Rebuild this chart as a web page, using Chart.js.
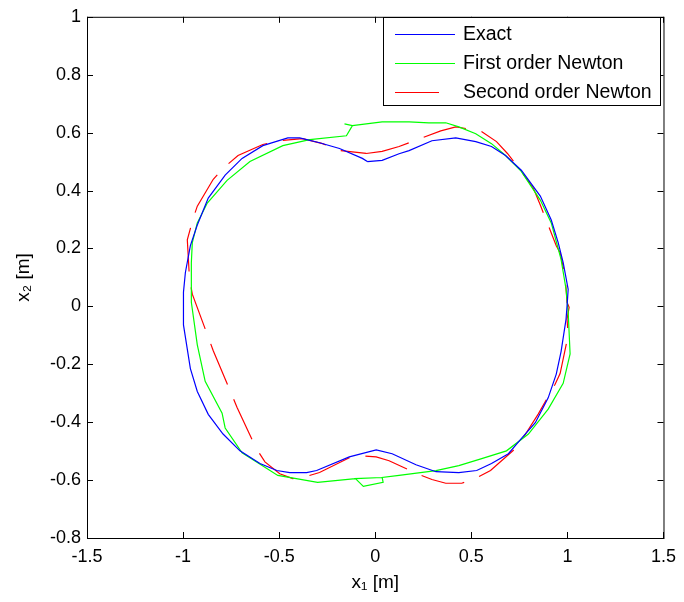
<!DOCTYPE html>
<html><head><meta charset="utf-8">
<script src="https://cdn.jsdelivr.net/npm/chart.js@4/dist/chart.umd.min.js"></script>
<style>html,body{margin:0;padding:0;background:#fff}#wrap{width:684px;height:602px}</style>
</head><body><div id="wrap"><canvas id="c" width="684" height="602"></canvas></div>
<script>
const xTicks=[-1.5,-1,-0.5,0,0.5,1,1.5];
const yTicks=[-0.8,-0.6,-0.4,-0.2,0,0.2,0.4,0.6,0.8,1];
const seriesNames=['Exact','First order Newton','Second order Newton'];
const seriesColors=['#0000ff','#00ff00','#ff0000'];

const exactX=[-0.041,0.036,0.124,0.176,0.295,0.419,0.523,0.605,0.678,0.760,0.859,0.916,0.952,0.978,1.004,0.998,0.993,0.967,0.942,0.900,0.833,0.760,0.693,0.605,0.528,0.435,0.316,0.212,0.088,0.005,-0.135,-0.305,-0.357,-0.445,-0.512,-0.600,-0.704,-0.792,-0.869,-0.926,-0.962,-0.998,-0.998,-0.988,-0.962,-0.926,-0.869,-0.781,-0.693,-0.585,-0.455,-0.393,-0.290,-0.186,-0.067,-0.041];
const exactY=[0.500,0.504,0.527,0.538,0.572,0.582,0.569,0.552,0.521,0.470,0.381,0.298,0.220,0.151,0.059,0.000,-0.044,-0.156,-0.234,-0.316,-0.402,-0.457,-0.509,-0.543,-0.567,-0.574,-0.571,-0.547,-0.509,-0.496,-0.520,-0.567,-0.574,-0.574,-0.567,-0.543,-0.499,-0.441,-0.373,-0.294,-0.215,-0.064,0.049,0.117,0.210,0.281,0.374,0.453,0.511,0.555,0.582,0.582,0.565,0.545,0.511,0.500];

const firstX=[-0.160,-0.119,0.036,0.176,0.279,0.367,0.435,0.523,0.605,0.678,0.760,0.859,0.916,0.967,0.993,1.004,1.014,0.978,0.900,0.797,0.683,0.554,0.435,0.316,0.124,0.036,0.041,-0.062,-0.103,0.036,-0.103,-0.300,-0.507,-0.693,-0.781,-0.797,-0.885,-0.926,-0.957,-0.957,-0.952,-0.926,-0.874,-0.771,-0.652,-0.481,-0.341,-0.150,-0.119];
const firstY=[0.630,0.624,0.637,0.637,0.634,0.634,0.620,0.596,0.562,0.521,0.466,0.367,0.288,0.162,0.059,-0.020,-0.164,-0.266,-0.355,-0.441,-0.499,-0.526,-0.550,-0.567,-0.584,-0.591,-0.608,-0.622,-0.595,-0.591,-0.595,-0.608,-0.584,-0.506,-0.420,-0.369,-0.259,-0.133,0.014,0.151,0.220,0.288,0.357,0.435,0.500,0.555,0.576,0.589,0.624];

const secondX=[-0.047,0.036,0.124,0.341,0.419,0.548,0.631,0.688,0.760,0.823,0.859,0.942,0.962,0.988,0.998,1.009,0.998,1.004,0.962,0.936,0.848,0.760,0.729,0.600,0.523,0.450,0.367,0.295,0.217,0.072,0.005,-0.072,-0.135,-0.290,-0.378,-0.429,-0.497,-0.574,-0.621,-0.719,-0.843,-0.952,-0.967,-0.978,-0.947,-0.926,-0.843,-0.781,-0.714,-0.585,-0.497,-0.378,-0.274,-0.186,-0.047];
const secondY=[0.528,0.535,0.552,0.606,0.620,0.606,0.569,0.528,0.466,0.408,0.350,0.209,0.185,0.107,0.014,-0.003,-0.044,-0.099,-0.232,-0.269,-0.372,-0.464,-0.491,-0.567,-0.594,-0.611,-0.611,-0.598,-0.578,-0.533,-0.520,-0.516,-0.523,-0.574,-0.591,-0.595,-0.578,-0.537,-0.489,-0.349,-0.153,0.042,0.100,0.230,0.305,0.346,0.439,0.483,0.521,0.559,0.572,0.579,0.562,0.538,0.528];

const redDash=[44,16];
const toPts=(xs,ys)=>xs.map((x,i)=>({x:x,y:ys[i]}));
const fmt=v=>String(Math.round(v*10)/10);
const FONT='"Liberation Sans", Arial, Helvetica, sans-serif';

const framePlugin={
  id:'frame',
  afterDraw(chart){
    const {ctx,chartArea:a,scales}=chart;
    ctx.save();
    ctx.strokeStyle='#000';ctx.lineWidth=1;
    ctx.strokeRect(a.left+0.5,a.top+0.5,a.right-a.left,a.bottom-a.top);
    const tl=6;
    ctx.beginPath();
    xTicks.forEach(v=>{const p=Math.round(scales.x.getPixelForValue(v))+0.5;
      ctx.moveTo(p,a.bottom);ctx.lineTo(p,a.bottom-tl);ctx.moveTo(p,a.top);ctx.lineTo(p,a.top+tl);});
    yTicks.forEach(v=>{const p=Math.round(scales.y.getPixelForValue(v))+0.5;
      ctx.moveTo(a.left,p);ctx.lineTo(a.left+tl,p);ctx.moveTo(a.right,p);ctx.lineTo(a.right-tl,p);});
    ctx.stroke();
    // legend
    const bx=383.5,by=17.5,bw=277,bh=88;
    ctx.fillStyle='#fff';ctx.fillRect(bx,by,bw,bh);
    ctx.strokeRect(bx,by,bw,bh);
    ctx.font='19.5px '+FONT;ctx.textBaseline='middle';ctx.textAlign='left';
    chart.data.datasets.forEach((d,i)=>{
      const yy=34+i*29;
      ctx.beginPath();ctx.strokeStyle=d.borderColor;ctx.lineWidth=1.2;
      ctx.setLineDash(d.borderDash||[]);
      ctx.moveTo(395,yy+0.5);ctx.lineTo(455,yy+0.5);ctx.stroke();
      ctx.setLineDash([]);
      ctx.fillStyle='#000';ctx.fillText(d.label,463,yy+1);
    });
    ctx.restore();
  }
};

new Chart(document.getElementById('c'),{
  type:'scatter',
  data:{datasets:[
    {label:seriesNames[0],data:toPts(exactX,exactY),borderColor:seriesColors[0],showLine:true,borderWidth:1.2,pointRadius:0,tension:0},
    {label:seriesNames[1],data:toPts(firstX,firstY),borderColor:seriesColors[1],showLine:true,borderWidth:1.2,pointRadius:0,tension:0},
    {label:seriesNames[2],data:toPts(secondX,secondY),borderColor:seriesColors[2],showLine:true,borderWidth:1.2,pointRadius:0,tension:0,borderDash:redDash}
  ]},
  options:{
    responsive:false,animation:false,devicePixelRatio:1,
    layout:{padding:{top:13,right:17,left:0,bottom:0}},
    plugins:{legend:{display:false},tooltip:{enabled:false}},
    scales:{
      x:{type:'linear',min:-1.5,max:1.5,
        afterBuildTicks:s=>{s.ticks=xTicks.map(v=>({value:v}));},
        afterFit:s=>{s.height=64;},
        grid:{display:false,drawTicks:false},border:{display:false},
        ticks:{callback:fmt,autoSkip:false,maxRotation:0,padding:8,color:'#000',font:{family:FONT,size:18}},
        title:{display:true,text:'x₁ [m]',color:'#000',font:{family:FONT,size:19},padding:{top:0,bottom:8}}
      },
      y:{type:'linear',min:-0.8,max:1,
        afterBuildTicks:s=>{s.ticks=yTicks.map(v=>({value:v}));},
        afterFit:s=>{s.width=87;},
        grid:{display:false,drawTicks:false},border:{display:false},
        ticks:{callback:fmt,autoSkip:false,padding:6,color:'#000',font:{family:FONT,size:18}},
        title:{display:true,text:'x₂ [m]',color:'#000',font:{family:FONT,size:19},padding:{top:12,bottom:0}}
      }
    }
  },
  plugins:[framePlugin]
});
</script></body></html>
